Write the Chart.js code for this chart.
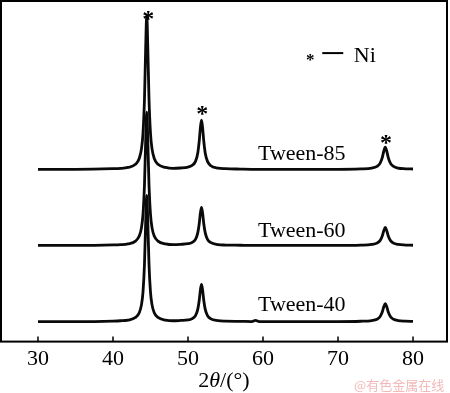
<!DOCTYPE html>
<html>
<head>
<meta charset="utf-8">
<script src="https://cdn.jsdelivr.net/npm/chart.js@4.4.0/dist/chart.umd.min.js"></script>
<style>
  html, body { margin: 0; padding: 0; background: #fff; }
  #wrap { width: 450px; height: 393px; }
</style>
</head>
<body>
<div id="wrap"><canvas id="xrd" width="450" height="393"></canvas></div>
<script>
// 2θ positions (deg), shared by the three patterns
const twoTheta = [30, 35, 40, 41, 42, 43, 43.5, 43.8, 44, 44.2, 44.35,
    44.5, 44.65, 44.8, 45, 45.2, 45.5, 46, 47, 48, 49,
    50, 50.5, 51, 51.3, 51.5, 51.65, 51.8, 51.95, 52.1, 52.3,
    52.6, 53, 54, 55, 57, 58.5, 59, 59.5, 62, 65,
    70, 73, 74.5, 75.2, 75.6, 75.9, 76.1, 76.3, 76.5, 76.7,
    77, 77.4, 78, 79, 80];

// intensity (a.u., stacked with offsets as in the figure)
const tween85 = [172, 172, 172.6, 172.9, 173.9, 177, 182.8, 192.6, 207.9, 242.4, 290.7,
    326, 290.7, 242.4, 207.9, 192.6, 182.8, 177, 173.9, 172.9, 173.3,
    174.2, 175.6, 179.9, 188.1, 200.3, 213.4, 221, 213.4, 200.3, 188.1,
    179.9, 175.8, 173.2, 172.6, 172.2, 172, 172, 172, 172, 172,
    172, 172.4, 173.2, 174.9, 177.9, 183.7, 190, 194, 190, 183.7,
    177.9, 174.9, 173.2, 172.5, 172.3];
const tween60 = [96, 96, 96.5, 96.8, 97.6, 100.3, 105.3, 113.8, 127, 156.8, 198.5,
    229, 198.5, 156.8, 127, 113.8, 105.3, 100.3, 97.6, 96.8, 97.1,
    97.7, 98.8, 102.1, 108.5, 117.9, 128.1, 134, 128.1, 117.9, 108.5,
    102.1, 99, 96.9, 96.4, 96.2, 96, 96, 96, 96, 96,
    96, 96.3, 97, 98.3, 100.8, 105.5, 110.7, 114, 110.7, 105.5,
    100.8, 98.3, 97, 96.4, 96.2];
const tween40 = [20, 20, 20.5, 20.8, 21.5, 24.1, 28.8, 36.9, 49.4, 77.6, 117.1,
    146, 117.1, 77.6, 49.4, 36.9, 28.8, 24.1, 21.5, 20.8, 21.1,
    21.6, 22.7, 26, 32.2, 41.3, 51.3, 57, 51.3, 41.3, 32.2,
    26, 22.9, 20.9, 20.4, 20.2, 20, 21.2, 20, 20, 20,
    20, 20.3, 21, 22.3, 24.8, 29.5, 34.7, 38, 34.7, 29.5,
    24.8, 22.3, 21, 20.4, 20.2];

const sampleNames = ['Tween-85', 'Tween-60', 'Tween-40'];
const xTicks = [30, 40, 50, 60, 70, 80];

const serif = "'Liberation Serif', 'Times New Roman', serif";

function pts(arr) {
    return twoTheta.map((t, i) => ({ x: t, y: arr[i] }));
}

function lineSet(label, arr) {
    return {
        label: label,
        data: pts(arr),
        borderColor: '#0a0a0a',
        borderWidth: 2.8,
        pointRadius: 0,
        cubicInterpolationMode: 'monotone',
        fill: false
    };
}

// frame, inner ticks, labels, asterisks, legend, axis title
const decor = {
    id: 'decor',
    afterDraw(chart) {
        const ctx = chart.ctx;
        const a = chart.chartArea;
        const x = chart.scales.x;
        const y = chart.scales.y;
        const X = v => x.getPixelForValue(v);
        const Y = v => y.getPixelForValue(v);
        ctx.save();
        ctx.strokeStyle = '#000';
        ctx.lineWidth = 2;
        ctx.strokeRect(a.left, a.top, a.right - a.left, a.bottom - a.top);

        ctx.lineWidth = 1.5;
        xTicks.forEach(v => {
            ctx.beginPath();
            ctx.moveTo(X(v), a.bottom);
            ctx.lineTo(X(v), a.bottom - 5);
            ctx.stroke();
        });

        ctx.fillStyle = '#000';
        ctx.textAlign = 'left';
        ctx.textBaseline = 'alphabetic';
        ctx.font = '22px ' + serif;
        ctx.fillText(sampleNames[0], X(59.33), Y(181));
        ctx.fillText(sampleNames[1], X(59.33), Y(104));
        ctx.fillText(sampleNames[2], X(59.33), Y(31));

        // peak markers
        ctx.textAlign = 'center';
        ctx.font = 'bold 24px ' + serif;
        ctx.fillText('*', X(44.7), Y(315));
        ctx.fillText('*', X(51.9), Y(220));
        ctx.fillText('*', X(76.4), Y(191));

        // legend: * — Ni
        ctx.font = 'bold 17px ' + serif;
        ctx.fillText('*', X(66.3), Y(276));
        ctx.lineWidth = 2;
        ctx.beginPath();
        ctx.moveTo(X(67.9), Y(288));
        ctx.lineTo(X(70.7), Y(288));
        ctx.stroke();
        ctx.textAlign = 'left';
        ctx.font = '22px ' + serif;
        ctx.fillText('Ni', X(72.1), Y(279));

        // axis title 2θ/(°)
        const cx = (a.left + a.right) / 2;
        const ty = 387;
        ctx.font = '22px ' + serif;
        const p1 = '2', p3 = '/(°)';
        const w1 = ctx.measureText(p1).width;
        const w3 = ctx.measureText(p3).width;
        ctx.font = 'italic 22px ' + serif;
        const w2 = ctx.measureText('θ').width;
        let sx = cx - (w1 + w2 + w3) / 2;
        ctx.font = '22px ' + serif;
        ctx.fillText(p1, sx, ty);
        ctx.font = 'italic 22px ' + serif;
        ctx.fillText('θ', sx + w1, ty);
        ctx.font = '22px ' + serif;
        ctx.fillText(p3, sx + w1 + w2, ty);

        // watermark
        ctx.fillStyle = '#f2b9b9';
        ctx.font = "13px 'Noto Sans CJK SC', sans-serif";
        ctx.textAlign = 'left';
        ctx.fillText('@有色金属在线', 354, 390);
        ctx.restore();
    }
};

new Chart(document.getElementById('xrd'), {
    type: 'line',
    data: {
        datasets: [
            lineSet(sampleNames[0], tween85),
            lineSet(sampleNames[1], tween60),
            lineSet(sampleNames[2], tween40)
        ]
    },
    options: {
        responsive: false,
        animation: false,
        devicePixelRatio: 1,
        layout: { padding: { left: 1, right: 3, top: 1, bottom: 17 } },
        plugins: {
            legend: { display: false },
            tooltip: { enabled: false }
        },
        scales: {
            x: {
                type: 'linear',
                min: 25.07,
                max: 84.53,
                afterBuildTicks: axis => {
                    axis.ticks = xTicks.map(v => ({ value: v }));
                },
                grid: { display: false, drawTicks: false },
                border: { display: false },
                ticks: {
                    padding: 4,
                    color: '#000',
                    font: { family: serif, size: 22 }
                }
            },
            y: {
                display: false,
                min: 0,
                max: 340
            }
        }
    },
    plugins: [decor]
});
</script>
</body>
</html>
